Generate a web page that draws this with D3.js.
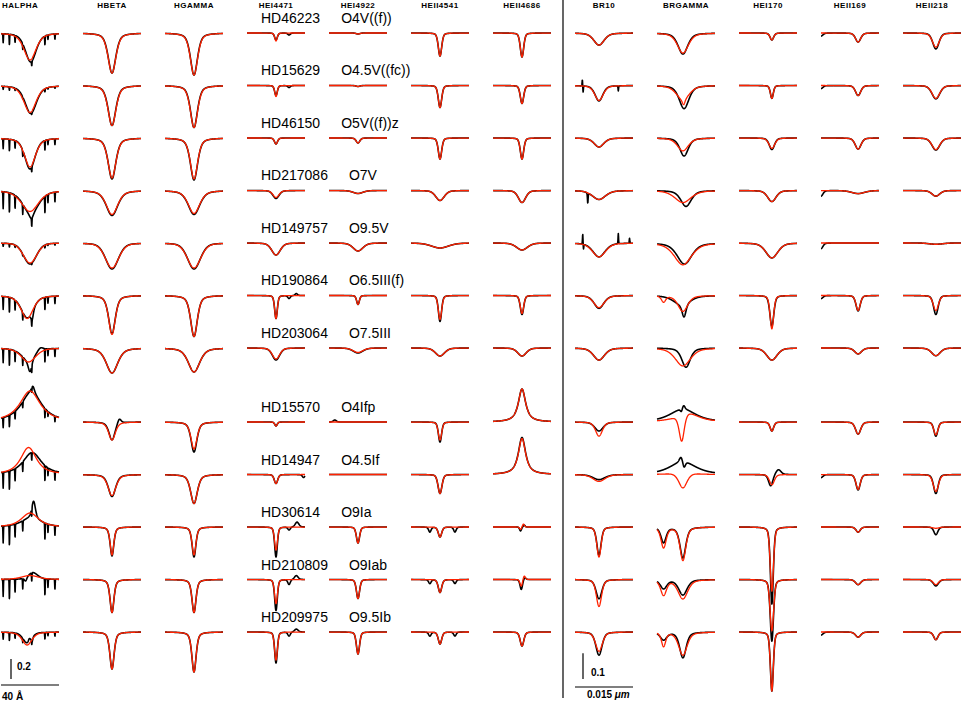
<!DOCTYPE html>
<html>
<head>
<meta charset="utf-8">
<script src="https://cdn.jsdelivr.net/npm/d3@7"></script>
<style>
  body { margin: 0; background: #fff; }
  svg { display: block; }
  .head { font-family: "Liberation Sans", Arial, sans-serif; font-size: 8px; font-weight: bold; letter-spacing: 0.5px; }
  .star { font-family: "Liberation Sans", Arial, sans-serif; font-size: 14px; }
  .scale { font-family: "Liberation Sans", Arial, sans-serif; font-size: 10px; font-weight: bold; }
</style>
</head>
<body>
<script>
const W = 962, H = 709;

// stars (one row each) and spectral types
const stars = ["HD46223", "HD15629", "HD46150", "HD217086", "HD149757", "HD190864",
  "HD203064", "HD15570", "HD14947", "HD30614", "HD210809", "HD209975"];
const spTypes = ["O4V((f))", "O4.5V((fc))", "O5V((f))z", "O7V", "O9.5V", "O6.5III(f)",
  "O7.5III", "O4Ifp", "O4.5If", "O9Ia", "O9Iab", "O9.5Ib"];

// line windows (optical in Angstrom, infrared in micron)
const opticalLines = ["HALPHA", "HBETA", "HGAMMA", "HEI4471", "HEI4922", "HEII4541", "HEII4686"];
const infraredLines = ["BR10", "BRGAMMA", "HEI170", "HEII169", "HEII218"];
const lineCentre = [0, 0, 0, 0, 0, 0, 0, -0.0013, -0.0008, 0.001, 0.0021, 0.001]; // line position in window
const lorentzPart = [0.5, 0.5, 0.5, 0.3, 0.3, 0.3, 0.3, 0.4, 0.5, 0.35, 0.3, 0.3];

// [depth (continuum units, negative = emission), FWHM, shift, lorentz fraction]
const halphaModel = [[0.27, 10], [0.27, 10], [0.29, 9], [0.21, 14], [0.20, 11, 0, 0.2], [0.23, 10, -2],
  [0.14, 12, -1], [-0.31, 17, 0, 0.9], [-0.27, 13, -1, 0.8], [-0.14, 14, 0, 0.7], [-0.04, 14], [0.13, 8, -2]];
const halphaObs = [[0.29, 9, 0.5], [0.28, 9.5, 0.5], [0.31, 8.5], [0.23, 13, 0.5], [0.21, 10.5, 0, 0.2], [0.22, 10, -2],
  [0.12, 12, -1], [-0.30, 17, 1, 0.9], [-0.22, 15, 1.5, 0.8], [-0.09, 16, 1, 0.7], [-0.07, 8, 2], [0.11, 7, -2]];
const hbetaModel = [[0.40, 6.5], [0.40, 6.5], [0.40, 6.5], [0.24, 9.5], [0.25, 11, 0, 0.3], [0.39, 5.5],
  [0.25, 9.5], [0.18, 5.5], [0.21, 6.5], [0.28, 3.0], [0.33, 3.2], [0.37, 3.5]];
const hbetaObs = [[0.40, 6.3], [0.40, 6.3], [0.41, 6.3], [0.25, 9.5], [0.26, 10.5, 0, 0.3], [0.38, 5.5],
  [0.25, 9.5], [0.18, 5.0], [0.22, 6], [0.29, 3.0], [0.33, 3.2], [0.37, 3.5]];
const hgammaModel = [[0.42, 6], [0.42, 6], [0.41, 6], [0.23, 9.5], [0.25, 11, 0, 0.3], [0.41, 5.5],
  [0.24, 9.5], [0.27, 5], [0.29, 5.5], [0.28, 3.2], [0.33, 3.3], [0.40, 3.5]];
const hgammaObs = [[0.42, 5.8], [0.42, 5.8], [0.42, 6], [0.24, 9.5], [0.26, 10.5, 0, 0.3], [0.41, 5.5],
  [0.24, 9.5], [0.30, 4.8], [0.29, 5.5], [0.30, 3.1], [0.33, 3.3], [0.40, 3.5]];
const hei4471Model = [[0.08, 2], [0.11, 2], [0.06, 2.5], [0.07, 5], [0.12, 7], [0.23, 2.2],
  [0.11, 6], [0.04, 2], [0.09, 2.8], [0.23, 2.4], [0.24, 2.4], [0.28, 2.4]];
const hei4471Obs = [[0.07, 2.2], [0.10, 2.2], [0.06, 2.5], [0.08, 5], [0.12, 7], [0.23, 2.2],
  [0.12, 6], [0.04, 2], [0.09, 2.8], [0.30, 2.2], [0.31, 2.2], [0.31, 2.2]];
const hei4922Model = [[0.01, 3], [0.01, 3], [0.05, 3], [0.03, 8], [0.08, 8], [0.09, 2.2],
  [0.045, 8], [0.0, 3], [0.0, 3], [0.16, 2.6], [0.19, 2.6], [0.22, 2.6]];
const hei4922Obs = [[0.01, 3], [0.01, 3], [0.05, 3], [0.03, 8], [0.08, 8], [0.09, 2.2],
  [0.05, 8], [0.0, 3], [0.0, 3], [0.16, 2.6], [0.19, 2.6], [0.22, 2.6]];
const heii4541Model = [[0.23, 2.8], [0.22, 2.8], [0.21, 2.8], [0.10, 7], [0.05, 14], [0.24, 2.8],
  [0.08, 7.5], [0.18, 2.8], [0.19, 3.2], [0.10, 2.8], [0.13, 2.8], [0.12, 2.8]];
const heii4541Obs = [[0.23, 2.8], [0.22, 2.8], [0.21, 2.8], [0.10, 7], [0.05, 14], [0.26, 2.6],
  [0.08, 7.5], [0.20, 2.6], [0.19, 3.2], [0.10, 2.8], [0.13, 2.8], [0.12, 2.8]];
const heii4686Model = [[0.24, 2.8], [0.18, 2.8], [0.21, 2.8], [0.12, 6], [0.07, 9], [0.18, 2.8],
  [0.08, 7], [-0.33, 6, 0, 0.9], [-0.36, 6, 0, 0.9], [0.025, 1.5, -1], [0.07, 2, -0.5], [0.14, 3]];
const heii4686Obs = [[0.24, 2.8], [0.18, 2.8], [0.21, 2.8], [0.12, 6], [0.07, 9], [0.19, 2.8],
  [0.08, 7], [-0.33, 6, 0, 0.9], [-0.37, 6, 0, 0.9], [0.04, 1.5, -1], [0.10, 2, -0.5], [0.14, 3]];

const br10Model = [[0.047, 0.0032], [0.058, 0.0026], [0.035, 0.003], [0.035, 0.004], [0.054, 0.004], [0.047, 0.0032],
  [0.047, 0.0034], [0.055, 0.0021], [0.027, 0.0037], [0.117, 0.0013], [0.105, 0.0016], [0.075, 0.0021]];
const br10Obs = [[0.047, 0.0032], [0.06, 0.0024], [0.035, 0.003], [0.035, 0.004], [0.054, 0.0038], [0.05, 0.003],
  [0.047, 0.0034], [0.035, 0.0026], [0.02, 0.0037], [0.11, 0.0013], [0.075, 0.0018], [0.09, 0.0019]];
const brgammaModel = [[0.078, 0.0034], [0.055, 0.004], [0.05, 0.0034], [0.047, 0.005], [0.085, 0.0053], [0.062, 0.003],
  [0.07, 0.0047], [0.11, 0.0016, -0.0003], [0.062, 0.0026], [0.13, 0.0018], [0.075, 0.003], [0.09, 0.0026]];
const brgammaObs = [[0.082, 0.003], [0.09, 0.003, 0.0003], [0.07, 0.0026, 0.0003], [0.062, 0.0032, 0.0008],
  [0.082, 0.0045, 0.0004], [0.05, 0.0012, 0.0003], [0.075, 0.0026, 0.0008], [-0.05, 0.008, 0, 0.7],
  [-0.05, 0.008, 0, 0.7], [0.12, 0.0018], [0.06, 0.0026], [0.10, 0.002]];
const hei170Model = [[0.027, 0.0011], [0.05, 0.0009], [0.04, 0.0018], [0.043, 0.0026], [0.058, 0.0037], [0.13, 0.0011],
  [0.047, 0.0032], [0.035, 0.0011], [0.04, 0.0015], [0.25, 0.001], [0.20, 0.0011], [0.23, 0.0009]];
const hei170Obs = [[0.027, 0.0011], [0.05, 0.0009], [0.045, 0.0016], [0.043, 0.0026], [0.058, 0.0037], [0.12, 0.0012],
  [0.047, 0.0032], [0.035, 0.0011], [0.045, 0.0013, -0.0003], [0.30, 0.0009], [0.24, 0.001], [0.23, 0.0009]];
const heii169Model = [[0.035, 0.0016], [0.039, 0.0016], [0.043, 0.0018], [0.012, 0.004], [0.0, 0.002], [0.058, 0.0013],
  [0.023, 0.0021], [0.047, 0.0016], [0.058, 0.0013], [0.02, 0.0013], [0.02, 0.0016], [0.02, 0.0016]];
const heii169Obs = [[0.035, 0.0016], [0.039, 0.0016], [0.043, 0.0018], [0.012, 0.004], [0.0, 0.002], [0.06, 0.0013],
  [0.023, 0.0021], [0.047, 0.0016], [0.06, 0.0013], [0.02, 0.0013], [0.02, 0.0016], [0.02, 0.0016]];
const heii218Model = [[0.055, 0.0021], [0.05, 0.0024], [0.045, 0.0024], [0.022, 0.0024], [0.005, 0.004], [0.058, 0.0016],
  [0.03, 0.0026], [0.05, 0.0013], [0.066, 0.0016], [0.005, 0.002], [0.02, 0.0016], [0.03, 0.0013]];
const heii218Obs = [[0.062, 0.0019], [0.052, 0.0024], [0.047, 0.0024], [0.022, 0.0024], [0.005, 0.004], [0.074, 0.0014],
  [0.03, 0.0026], [0.055, 0.0012], [0.074, 0.0014], [0.03, 0.0012], [0.025, 0.0016], [0.03, 0.0013]];

// extra blends / wind features: [line, row, series, depth, FWHM, shift, lorentz]
const extraFeatures = [
  ["HALPHA", 3, "obs", 0.05, 3, 1], ["HALPHA", 5, "obs", 0.09, 2, 1.5],
  ["HALPHA", 6, "obs", 0.12, 3, 0], ["HALPHA", 6, "obs", -0.04, 5, 7],
  ["HALPHA", 7, "obs", -0.06, 2.5, 2], ["HALPHA", 9, "obs", -0.17, 3, 2.5],
  ["HALPHA", 10, "obs", 0.04, 2, -3], ["HALPHA", 11, "obs", 0.04, 1.2, 1.5], ["HALPHA", 11, "obs", -0.03, 1.5, -0.5],
  ["HBETA", 7, "obs", -0.05, 3, 5],
  ["HEI4471", 0, "obs", 0.02, 2, 9], ["HEI4471", 1, "obs", 0.02, 2, 9],
  ["HEI4471", 5, "obs", 0.03, 2, 9], ["HEI4471", 5, "obs", -0.02, 2, 14], ["HEI4471", 8, "obs", 0.03, 2, 19],
  ["HEI4471", 9, "obs", 0.03, 2, 9], ["HEI4471", 9, "obs", -0.05, 3, 14.5],
  ["HEI4471", 10, "obs", 0.05, 2, 9], ["HEI4471", 10, "obs", -0.04, 3, 14],
  ["HEI4471", 11, "obs", 0.04, 2, 9], ["HEI4471", 11, "obs", -0.03, 3, 14],
  ["HEI4922", 7, "obs", -0.02, 2.5, -16],
  ["HEII4541", 9, "obs", 0.05, 2, -7], ["HEII4541", 9, "obs", 0.05, 2, 10.3],
  ["HEII4541", 10, "obs", 0.04, 2, -7], ["HEII4541", 10, "obs", 0.04, 2, 10.3],
  ["HEII4541", 11, "obs", 0.04, 2, -7], ["HEII4541", 11, "obs", 0.04, 2, 10.3],
  ["HEII4686", 9, "model", -0.03, 1.5, 1], ["HEII4686", 9, "obs", -0.02, 1.5, 1.5],
  ["HEII4686", 10, "model", -0.04, 2, 1.5], ["HEII4686", 10, "obs", -0.02, 2, 2],
  ["BR10", 1, "obs", -0.025, 0.00015, -0.0043], ["BR10", 1, "obs", 0.025, 0.00015, -0.0041],
  ["BR10", 1, "obs", 0.02, 0.00015, 0.005], ["BR10", 3, "obs", 0.04, 0.0002, -0.0029],
  ["BR10", 4, "obs", -0.04, 0.00015, -0.0042], ["BR10", 4, "obs", 0.02, 0.00015, -0.0040],
  ["BR10", 4, "obs", -0.04, 0.00015, 0.005], ["BR10", 4, "obs", -0.02, 0.00015, 0.0079],
  ["BRGAMMA", 1, "model", 0.02, 0.0008, 0.0002],
  ["BRGAMMA", 5, "model", 0.024, 0.0013, -0.005], ["BRGAMMA", 5, "obs", 0.035, 0.005, -0.0003],
  ["BRGAMMA", 7, "model", -0.04, 0.007, 0.001, 0.8],
  ["BRGAMMA", 7, "obs", -0.015, 0.0008, 0.0002], ["BRGAMMA", 7, "obs", 0.012, 0.0006, -0.0004],
  ["BRGAMMA", 8, "model", -0.01, 0.008, 0],
  ["BRGAMMA", 8, "obs", -0.02, 0.001, -0.0005], ["BRGAMMA", 8, "obs", 0.025, 0.0008, 0.0003],
  ["BRGAMMA", 9, "model", 0.08, 0.0016, -0.005], ["BRGAMMA", 9, "obs", 0.06, 0.0016, -0.005],
  ["BRGAMMA", 10, "model", 0.06, 0.0018, -0.005], ["BRGAMMA", 10, "obs", 0.035, 0.002, -0.005],
  ["BRGAMMA", 11, "model", 0.055, 0.0013, -0.005], ["BRGAMMA", 11, "obs", 0.03, 0.002, -0.005],
  ["HEI170", 8, "obs", -0.02, 0.0016, 0.0017],
  ["HEII169", 0, "obs", 0.012, 0.0012, -0.0096], ["HEII169", 1, "obs", 0.012, 0.0012, -0.0096],
  ["HEII169", 3, "obs", 0.022, 0.0012, -0.0096], ["HEII169", 4, "obs", 0.022, 0.0012, -0.0096],
  ["HEII169", 5, "obs", 0.012, 0.0012, -0.0096], ["HEII169", 8, "obs", 0.012, 0.0012, -0.0096],
  ["HEII169", 11, "obs", 0.012, 0.0012, -0.0096]
];

// telluric lines in the H-alpha window: [shift (A), depth], scaled per star
const halphaTellurics = [[-18.5, 0.10], [-14.2, 0.12], [-10.3, 0.08], [-5.0, 0.06], [1.2, 0.05], [10.3, 0.10], [12.4, 0.05], [17.2, 0.06]];
const telluricStrength = [0.9, 0.3, 1.0, 1.7, 0.3, 1.3, 1.4, 1.0, 1.6, 1.7, 1.7, 0.7];

// scale bar labels
const opticalBar = { flux: 0.2, label: "0.2", span: "40 Å" };
const infraredBar = { flux: 0.1, label: "0.1", span: "0.015" };

const allLines = opticalLines.concat(infraredLines);
const modelSets = [halphaModel, hbetaModel, hgammaModel, hei4471Model, hei4922Model, heii4541Model, heii4686Model,
  br10Model, brgammaModel, hei170Model, heii169Model, heii218Model];
const obsSets = [halphaObs, hbetaObs, hgammaObs, hei4471Obs, hei4922Obs, heii4541Obs, heii4686Obs,
  br10Obs, brgammaObs, hei170Obs, heii169Obs, heii218Obs];

const svg = d3.select("body").append("svg").attr("width", W).attr("height", H);

// columns: one band per line window
const xBand = d3.scaleBand().domain(allLines).range([1, 961]).paddingInner(24 / 82).paddingOuter(0);
// rows: emission-line stars get a little extra room
const rowSlot = stars.map((s, i) => i + (i >= 7 ? 0.41 : 0));
const yRow = d3.scaleLinear().domain([0, 11.41]).range([33, 632]);

const isIR = name => infraredLines.includes(name);
const halfWindow = name => isIR(name) ? 0.0075 : 20;
const pxPerFlux = name => isIR(name) ? 257 : 100;

function pseudoVoigt(dx, fwhm, eta) {
  const u = 2 * dx / fwhm;
  return eta / (1 + u * u) + (1 - eta) * Math.exp(-Math.LN2 * u * u);
}

function components(li, row, series) {
  const name = allLines[li];
  const main = (series === "model" ? modelSets : obsSets)[li][row];
  const list = [main];
  extraFeatures.forEach(f => {
    if (f[0] === name && f[1] === row && f[2] === series) list.push(f.slice(3));
  });
  if (name === "HALPHA" && series === "obs") {
    halphaTellurics.forEach(t => list.push([t[1] * telluricStrength[row], 0.35, t[0], 0]));
  }
  return list;
}

function profile(li, row, series) {
  const name = allLines[li];
  const hw = halfWindow(name);
  const comps = components(li, row, series);
  const n = 320;
  return d3.range(n + 1).map(k => {
    const x = -hw + 2 * hw * k / n;
    let f = 1;
    comps.forEach(c => {
      const shift = (c[2] || 0) + lineCentre[li];
      const eta = c[3] !== undefined ? c[3] : lorentzPart[li];
      f -= c[0] * pseudoVoigt(x - shift, c[1], eta);
    });
    return [x, f];
  });
}

// header labels (the first one is kept inside the page)
svg.selectAll("text.head").data(allLines).enter().append("text")
  .attr("class", "head")
  .attr("text-anchor", (d, i) => i === 0 ? "start" : "middle")
  .attr("y", 8)
  .attr("x", (d, i) => i === 0 ? xBand(d) + 1 : xBand(d) + xBand.bandwidth() / 2)
  .text(d => d);

// divider between optical and infrared
const divX = (xBand("HEII4686") + xBand.bandwidth() + xBand("BR10")) / 2;
svg.append("line").attr("x1", divX).attr("x2", divX).attr("y1", 0).attr("y2", 698)
  .attr("stroke", "#000").attr("stroke-width", 1.2);

// star names and spectral types
const labelX = xBand("HEI4471") + 14;
const starLabels = svg.selectAll("text.star").data(stars).enter().append("text")
  .attr("class", "star")
  .attr("x", labelX)
  .attr("y", (d, i) => yRow(rowSlot[i]) - 10);
starLabels.append("tspan").text(d => d);
starLabels.append("tspan").attr("dx", 21).text((d, i) => spTypes[i]);

// spectra: observed in black, model in red on top
allLines.forEach((name, li) => {
  const x = d3.scaleLinear().domain([-halfWindow(name), halfWindow(name)])
    .range([xBand(name), xBand(name) + xBand.bandwidth()]);
  stars.forEach((star, row) => {
    const y0 = yRow(rowSlot[row]);
    const y = d3.scaleLinear().domain([0, 1]).range([y0 + pxPerFlux(name), y0]);
    const line = d3.line().x(d => x(d[0])).y(d => y(d[1]));
    const g = svg.append("g").attr("class", "cell");
    g.append("path").attr("d", line(profile(li, row, "obs")))
      .attr("fill", "none").attr("stroke", "#000").attr("stroke-width", 1.6).attr("stroke-linejoin", "round");
    g.append("path").attr("d", line(profile(li, row, "model")))
      .attr("fill", "none").attr("stroke", "#ff2200").attr("stroke-width", 1.3).attr("stroke-linejoin", "round");
  });
});

// scale bars
function scaleBar(name, bar, barBottom, spanY, labelDx, labelY, spanX, spanTextY, unit) {
  const x0 = xBand(name), x1 = x0 + xBand.bandwidth();
  const y = d3.scaleLinear().domain([0, 1]).range([barBottom, barBottom - pxPerFlux(name)]);
  const bx = x0 + (unit ? 8 : 10);
  svg.append("line").attr("x1", bx).attr("x2", bx).attr("y1", y(0)).attr("y2", y(bar.flux))
    .attr("stroke", "#000").attr("stroke-width", 1.2);
  svg.append("text").attr("class", "scale").attr("x", bx + labelDx).attr("y", labelY).text(bar.label);
  svg.append("line").attr("x1", x0).attr("x2", x1).attr("y1", spanY).attr("y2", spanY)
    .attr("stroke", "#000").attr("stroke-width", 1.2);
  const t = svg.append("text").attr("class", "scale").attr("x", x0 + spanX).attr("y", spanTextY);
  t.append("tspan").text(bar.span);
  if (unit) t.append("tspan").attr("font-style", "italic").text(" " + unit);
}
scaleBar("HALPHA", opticalBar, 679, 685, 6, 670, 1, 700, null);
scaleBar("BR10", infraredBar, 679, 687, 8, 676, 12, 698, "μm");
</script>
</body>
</html>
